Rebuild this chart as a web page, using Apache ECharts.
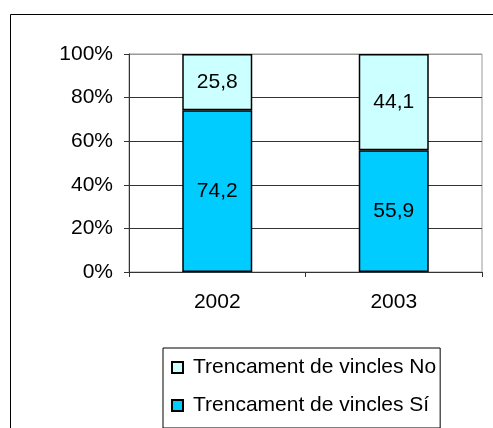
<!DOCTYPE html>
<html>
<head>
<meta charset="utf-8">
<script src="https://cdn.jsdelivr.net/npm/echarts@6/dist/echarts.min.js"></script>
<style>
  html, body { margin: 0; padding: 0; background: #fff; }
  #chart { width: 493px; height: 428px; }
</style>
</head>
<body>
<div id="chart"></div>
<script>
const years = ['2002', '2003'];
const valuesSi = [74.2, 55.9];
const valuesNo = [25.8, 44.1];
const nameSi = 'Trencament de vincles Sí';
const nameNo = 'Trencament de vincles No';

const font = 'Arial, "Liberation Sans", sans-serif';

function comma(p) {
  return p.value.toFixed(1).replace('.', ',');
}

const chart = echarts.init(document.getElementById('chart'));
chart.setOption({
  animation: false,
  backgroundColor: '#fff',
  graphic: [
    // outer frame of the chart area
    {
      type: 'rect',
      shape: { x: 10.5, y: 14.5, width: 600, height: 600 },
      style: { fill: 'none', stroke: '#000', lineWidth: 1 },
      silent: true
    }
  ],
  grid: {
    left: 129, right: 11, top: 54, bottom: 156,
    show: true,
    borderColor: '#999',
    borderWidth: 1
  },
  legend: {
    orient: 'vertical',
    left: 163, top: 348,
    data: [nameNo, nameSi],
    itemWidth: 11, itemHeight: 11,
    itemGap: 17,
    padding: [9, 4, 12, 8],
    borderColor: '#000',
    borderWidth: 1,
    icon: 'rect',
    selectedMode: false,
    textStyle: { fontFamily: font, fontSize: 21, color: '#000', padding: [0, 0, 0, 5] }
  },
  xAxis: {
    type: 'category',
    data: years,
    axisLine: { lineStyle: { color: '#333', width: 1 } },
    axisTick: { show: true, length: 5, lineStyle: { color: '#333' } },
    axisLabel: { fontFamily: font, fontSize: 21, color: '#000', margin: 20 },
    splitLine: { show: false }
  },
  yAxis: {
    type: 'value',
    min: 0, max: 100, interval: 20,
    axisLine: { show: true, lineStyle: { color: '#333', width: 1 } },
    axisTick: { show: true, length: 5, lineStyle: { color: '#333' } },
    axisLabel: { fontFamily: font, fontSize: 21, color: '#000', margin: 16, formatter: '{value}%' },
    splitLine: { lineStyle: { color: ['#333', '#333', '#333', '#333', '#333', '#999'], width: 1 } }
  },
  series: [
    {
      name: nameSi,
      type: 'bar',
      stack: 'total',
      barWidth: 70,
      data: valuesSi,
      itemStyle: { color: '#00CCFF', borderColor: '#000', borderWidth: 1.5 },
      label: { show: true, position: 'inside', formatter: comma, fontFamily: font, fontSize: 21, color: '#000' }
    },
    {
      name: nameNo,
      type: 'bar',
      stack: 'total',
      barWidth: 70,
      data: valuesNo,
      itemStyle: { color: '#CCFFFF', borderColor: '#000', borderWidth: 1.5 },
      label: { show: true, position: 'inside', formatter: comma, fontFamily: font, fontSize: 21, color: '#000' }
    }
  ]
});
</script>
</body>
</html>
